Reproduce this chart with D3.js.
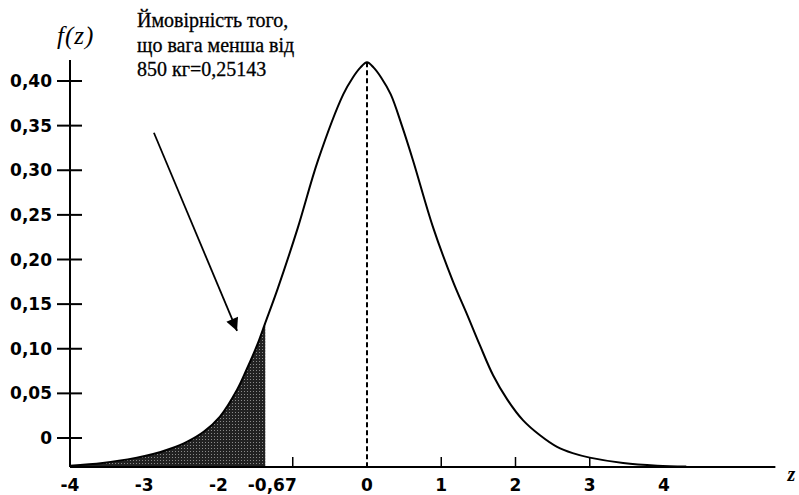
<!DOCTYPE html>
<html><head><meta charset="utf-8">
<script src="https://cdn.jsdelivr.net/npm/d3@7/dist/d3.min.js"></script>
<style>body{margin:0;background:#fff}svg{display:block}</style>
</head><body>
<svg id="c" width="799" height="495"></svg>
<script>
// ---- data ----
const curveZ = [-4.0,-3.56,-3.10,-2.88,-2.65,-2.42,-2.20,-1.98,-1.75,-1.62,-1.48,-1.37,-1.20,-0.93,-0.66,-0.32,-0.19,-0.09,0,0.09,0.19,0.32,0.47,0.62,0.89,1.16,1.35,1.52,1.70,1.89,2.10,2.33,2.56,2.77,3.00,3.45,3.91,4.3];
const curveF = [-0.031,-0.028,-0.022,-0.018,-0.012,-0.004,0.007,0.024,0.054,0.077,0.104,0.129,0.168,0.236,0.311,0.385,0.404,0.415,0.421,0.415,0.404,0.385,0.350,0.311,0.236,0.175,0.138,0.104,0.070,0.043,0.020,0.003,-0.010,-0.017,-0.022,-0.028,-0.031,-0.032];
const yTicks = [0,0.05,0.10,0.15,0.20,0.25,0.30,0.35,0.40];
const yTickLabels = ["0","0,05","0,10","0,15","0,20","0,25","0,30","0,35","0,40"];
const xLabelValues = [-4,-3,-2,-1.37,0,1,2,3,4];
const xLabels = ["-4","-3","-2","-0,67","0","1","2","3","4"];
const xTickMarks = [-1,1,2,3];
const cutoff = -1.37;
const axisFloor = -0.0325;
const yAxisTop = 0.4235;
const xAxisEnd = 5.5;
const annotation = ["Ймовірність того,","що вага менша від","850 кг=0,25143"];
const arrowFrom = [-2.87, 0.342];
const arrowTo = [-1.75, 0.120];

const svg = d3.select("#c");
const x = d3.scaleLinear().domain([-4,4]).range([70,664]);
const y = d3.scaleLinear().domain([0,0.40]).range([438,81]);
const curve = d3.curveCatmullRom.alpha(0.5);

const defs = svg.append("defs");
const pat = defs.append("pattern").attr("id","stip").attr("width",3).attr("height",3).attr("patternUnits","userSpaceOnUse");
pat.append("rect").attr("width",3).attr("height",3).attr("fill","#222");
pat.append("rect").attr("x",1).attr("y",1).attr("width",1).attr("height",1).attr("fill","#8a8a8a");

const pts = curveZ.map((z,i)=>({z, f:curveF[i]}));
const shadePts = pts.filter(d=>d.z<=cutoff);

// shaded area
svg.append("path")
  .datum(shadePts)
  .attr("d", d3.area().x(d=>x(d.z)).y0(y(axisFloor)).y1(d=>y(d.f)).curve(curve))
  .attr("fill","url(#stip)");

// dashed line at mean
svg.append("line")
  .attr("x1",x(0)).attr("x2",x(0))
  .attr("y1",y(d3.max(curveF))).attr("y2",y(axisFloor))
  .attr("stroke","#000").attr("stroke-width",2).attr("stroke-dasharray","5,3");

// curve
svg.append("path")
  .datum(pts)
  .attr("d", d3.line().x(d=>x(d.z)).y(d=>y(d.f)).curve(curve))
  .attr("fill","none").attr("stroke","#000").attr("stroke-width",2);

// y axis
svg.append("line").attr("x1",x(-4)).attr("x2",x(-4)).attr("y1",y(yAxisTop)).attr("y2",y(axisFloor))
  .attr("stroke","#000").attr("stroke-width",2);
const yg = svg.append("g");
yg.selectAll("line").data(yTicks).join("line")
  .attr("x1",x(-4)-13).attr("x2",x(-4)+12).attr("y1",d=>y(d)).attr("y2",d=>y(d))
  .attr("stroke","#000").attr("stroke-width",2);
yg.selectAll("text").data(yTicks).join("text")
  .attr("x",x(-4)-18).attr("y",d=>y(d)).attr("dy","0.36em")
  .attr("text-anchor","end")
  .attr("font-family","DejaVu Sans").attr("font-weight","bold").attr("font-size",17)
  .text((d,i)=>yTickLabels[i]);

// x axis
svg.append("line").attr("x1",x(-4)).attr("x2",x(xAxisEnd)).attr("y1",y(axisFloor)).attr("y2",y(axisFloor))
  .attr("stroke","#000").attr("stroke-width",2);
svg.append("g").selectAll("line").data(xTickMarks).join("line")
  .attr("x1",d=>x(d)).attr("x2",d=>x(d)).attr("y1",y(axisFloor)-10).attr("y2",y(axisFloor))
  .attr("stroke","#000").attr("stroke-width",1.5);
svg.append("g").selectAll("text").data(xLabelValues).join("text")
  .attr("x",(d,i)=>x(d)+(xLabels[i]==="-0,67"?7:0)).attr("y",491)
  .attr("text-anchor","middle")
  .attr("font-family","DejaVu Sans").attr("font-weight","bold").attr("font-size",17)
  .text((d,i)=>xLabels[i]);

// axis titles
svg.append("text").attr("x",x(xAxisEnd)+12).attr("y",481)
  .attr("font-family","Liberation Serif").attr("font-style","italic").attr("font-weight","bold").attr("font-size",20)
  .text("z");
svg.append("text").attr("x",57).attr("y",44)
  .attr("font-family","Liberation Serif").attr("font-style","italic").attr("font-size",25)
  .attr("letter-spacing",1)
  .text("f(z)");

// annotation
svg.append("g").selectAll("text").data(annotation).join("text")
  .attr("x",137).attr("y",(d,i)=>27+i*24.5)
  .attr("font-family","Liberation Serif").attr("font-size",20)
  .attr("stroke","#000").attr("stroke-width",0.3)
  .text(d=>d);

// arrow
defs.append("marker").attr("id","arr").attr("viewBox","0 0 10 10").attr("refX",10).attr("refY",5)
  .attr("markerWidth",8).attr("markerHeight",7).attr("markerUnits","strokeWidth").attr("orient","auto")
  .append("path").attr("d","M0,0L10,5L0,10Z").attr("fill","#000");
svg.append("line")
  .attr("x1",x(arrowFrom[0])).attr("y1",y(arrowFrom[1]))
  .attr("x2",x(arrowTo[0])).attr("y2",y(arrowTo[1]))
  .attr("stroke","#000").attr("stroke-width",1.8).attr("marker-end","url(#arr)");
</script>
</body></html>
